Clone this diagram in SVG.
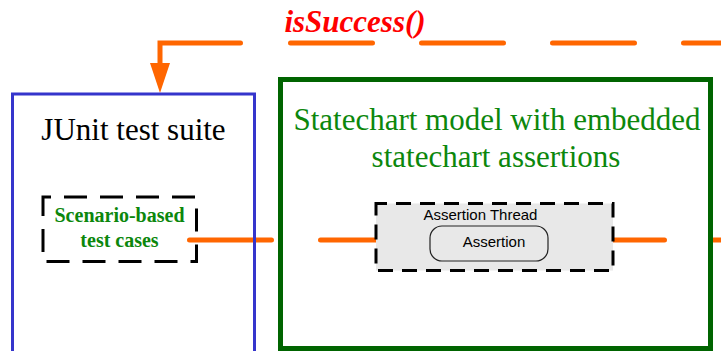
<svg xmlns="http://www.w3.org/2000/svg" width="721" height="351" viewBox="0 0 721 351">
  <style>
    .serif { font-family: "Liberation Serif", "Times New Roman", serif; }
    .sans { font-family: "Liberation Sans", Arial, sans-serif; }
    .orange { fill: none; stroke: #ff6600; stroke-width: 5; stroke-linecap: round; }
    .dashedOrange { stroke-dasharray: 82 49; }
    .title { font-size: 31px; text-anchor: middle; }
    .green { fill: #0c870c; }
  </style>
  <defs>
    <marker id="arrow" markerUnits="userSpaceOnUse" viewBox="0 0 30 20" refX="0" refY="10" markerWidth="30" markerHeight="20" orient="auto">
      <path d="M0,0 L30,10 L0,20 z" fill="#ff6600"/>
    </marker>
  </defs>
  <rect width="721" height="351" fill="#ffffff"/>

  <g id="connectors">
    <path class="orange" d="M240.5,43 H160 V63" marker-end="url(#arrow)"/>
    <path class="orange dashedOrange" d="M290.5,43 H740"/>
    <path class="orange dashedOrange" d="M189.5,240 H740"/>
    <text class="serif" x="355" y="32" font-size="31" font-weight="bold" font-style="italic" fill="#ff0000" text-anchor="middle">isSuccess()</text>
  </g>

  <g id="junit-suite">
    <rect x="12.5" y="94" width="242" height="270" fill="none" stroke="#3535cc" stroke-width="3"/>
    <text class="serif title" x="133.5" y="140" fill="#000000">JUnit test suite</text>
  </g>

  <g id="scenario-test-cases">
    <rect x="43" y="197" width="153.5" height="64.5" fill="#ffffff" fill-opacity="0" stroke="#000000" stroke-width="3" stroke-dasharray="23 13" stroke-dashoffset="15"/>
    <text class="serif green" x="119.5" y="222" font-size="20" font-weight="bold" text-anchor="middle">Scenario-based</text>
    <text class="serif green" x="119.5" y="247" font-size="20" font-weight="bold" text-anchor="middle">test cases</text>
  </g>

  <g id="statechart-model">
    <rect x="280.5" y="79.5" width="430" height="269" fill="none" stroke="#006400" stroke-width="5"/>
    <text class="serif title green" x="497" y="130">Statechart model with embedded</text>
    <text class="serif title green" x="496" y="167">statechart assertions</text>
  </g>

  <g id="assertion-thread">
    <rect x="376" y="203.5" width="237" height="67" fill="#e8e8e8" stroke="#000000" stroke-width="3" stroke-dasharray="15 9" stroke-dashoffset="4"/>
    <text class="sans" x="480.5" y="220" font-size="15" fill="#000000" text-anchor="middle">Assertion Thread</text>
  </g>

  <g id="assertion">
    <rect x="430" y="226" width="118" height="35" rx="12" ry="12" fill="#e8e8e8" stroke="#222222" stroke-width="1.2"/>
    <text class="sans" x="494" y="247" font-size="15" fill="#000000" text-anchor="middle">Assertion</text>
  </g>
</svg>
